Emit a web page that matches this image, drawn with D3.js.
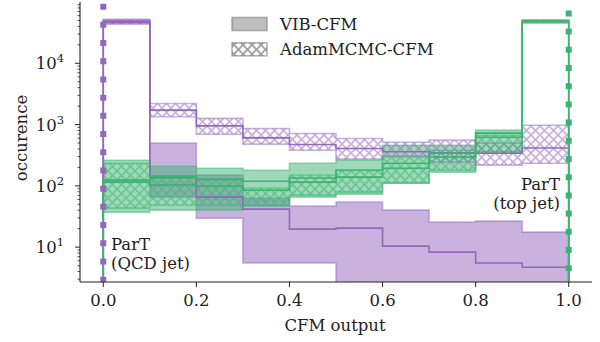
<!DOCTYPE html>
<html><head><meta charset="utf-8">
<script src="https://cdn.jsdelivr.net/npm/d3@7"></script>
<style>
body{margin:0;background:#fff;}
svg text{font-family:"DejaVu Serif","Liberation Serif",serif;fill:#222;}
</style></head>
<body><svg id="c" width="600" height="342" font-family="DejaVu Serif"></svg>
<script>
// ---- data ----
const binEdges = [0,0.1,0.2,0.3,0.4,0.5,0.6,0.7,0.8,0.9,1.0];
const xTicks = [0,0.2,0.4,0.6,0.8,1.0];
const yTickExps = [1,2,3,4];
// QCD jets (purple)
const qcdVibMid  = [48600, 139, 65.5, 41.7, 19.7, 20.4, 10.4, 8.3, 5.5, 4.7];
const qcdVibLo   = [45100, 65.5, 29.7, 5.5, 5.5, 1, 1, 1, 1, 1];
const qcdVibHi   = [52400, 498, 150, 63, 46.7, 54.2, 40.2, 25.6, 26.6, 17.6];
const qcdMcmcMid = [46800, 1718, 953, 607, 473, 407, 360, 345, 340, 415];
const qcdMcmcLo  = [43500, 1340, 697, 479, 382, 273, 305, 244, 218, 234];
const qcdMcmcHi  = [50500, 2210, 1260, 863, 716, 593, 516, 557, 498, 977];
// top jets (green)
const topVibMid  = [124, 144, 129, 119, 134, 180, 234, 341, 724, 48600];
const topVibLo   = [37.2, 40.2, 40.2, 46.7, 65.5, 73.3, 111, 167, 355, 46000];
const topVibHi   = [262, 209, 194, 180, 234, 262, 461, 461, 811, 51000];
const topMcmcMid = [115, 103, 99, 85, 115, 139, 194, 294, 622, 48000];
const topMcmcLo  = [43.3, 48.4, 48.4, 48.4, 70.5, 78.9, 111, 180, 355, 45500];
const topMcmcHi  = [234, 134, 124, 91.6, 150, 180, 294, 382, 671, 50500];
// ParT reference (delta peaks)
const partPos = [0, 1];
const partPeak = [94000, 73000];
const legendLabels = ["VIB-CFM", "AdamMCMC-CFM"];

const PURPLE = "#9467bd", GREEN = "#3cb371", GRAY = "#808080";
const FS = 16.5;
const FONT = "DejaVu Serif";

const svg = d3.select("#c");
const L = 80, R = 592, T = 2, B = 282;
const x = d3.scaleLinear([-0.05, 1.05], [L, R]);
const y = d3.scaleLog([2.7, 1e5], [B, T]);

const defs = svg.append("defs");
defs.append("clipPath").attr("id","clip").append("rect")
  .attr("x",L).attr("y",T).attr("width",R-L).attr("height",B-T);
function hatch(id, color, op){
  const p = defs.append("pattern").attr("id",id).attr("patternUnits","userSpaceOnUse")
    .attr("width",9).attr("height",9);
  p.append("path").attr("d","M-1,-1L10,10M-1,10L10,-1")
    .attr("stroke",color).attr("stroke-opacity",op).attr("stroke-width",1.8).attr("fill","none");
}
hatch("hP", PURPLE, 0.5); hatch("hG", GREEN, 0.5); hatch("hK", GRAY, 0.75);

const g = svg.append("g").attr("clip-path","url(#clip)");

function stepPts(lo, hi){
  const pts = [];
  for (let i=0;i<lo.length;i++){
    pts.push([binEdges[i], lo[i], hi[i]]);
    pts.push([binEdges[i+1], lo[i], hi[i]]);
  }
  return pts;
}
const area = d3.area().x(d=>x(d[0])).y0(d=>y(Math.max(d[1],0.5))).y1(d=>y(d[2]));
function band(lo, hi, color, hatchId){
  const p = g.append("path").datum(stepPts(lo,hi)).attr("d",area)
    .attr("stroke",color).attr("stroke-opacity",0.5).attr("stroke-width",1.6);
  if (hatchId) p.attr("fill",`url(#${hatchId})`);
  else p.attr("fill",color).attr("fill-opacity",0.5);
}
const line = d3.line().x(d=>x(d[0])).y(d=>y(d[1]));
function histLine(v, color){
  const pts = [[binEdges[0], 0.5]];
  v.forEach((val,i)=>{ pts.push([binEdges[i],val]); pts.push([binEdges[i+1],val]); });
  pts.push([binEdges[binEdges.length-1], 0.5]);
  g.append("path").datum(pts).attr("d",line).attr("fill","none")
    .attr("stroke",color).attr("stroke-width",1.6);
}

band(qcdVibLo, qcdVibHi, PURPLE, null);
band(topVibLo, topVibHi, GREEN, null);
band(qcdMcmcLo, qcdMcmcHi, PURPLE, "hP");
band(topMcmcLo, topMcmcHi, GREEN, "hG");
histLine(qcdVibMid, PURPLE);
histLine(qcdMcmcMid, PURPLE);
histLine(topVibMid, GREEN);
histLine(topMcmcMid, GREEN);

// ParT dotted peaks
[PURPLE, GREEN].forEach((c,i)=>{
  g.append("line").attr("x1",x(partPos[i])).attr("x2",x(partPos[i]))
    .attr("y1",y(partPeak[i])).attr("y2",B+10)
    .attr("stroke",c).attr("stroke-width",6).attr("stroke-dasharray","6,12.2");
});

function txt(sel){ return sel.append("text").attr("font-family",FONT).attr("font-size",FS); }

// axes
const ax = svg.append("g");
ax.append("line").attr("x1",L).attr("x2",L).attr("y1",T).attr("y2",B).attr("stroke","#222").attr("stroke-width",1.1);
ax.append("line").attr("x1",L).attr("x2",R).attr("y1",B).attr("y2",B).attr("stroke","#222").attr("stroke-width",1.1);
xTicks.forEach(t=>{
  ax.append("line").attr("x1",x(t)).attr("x2",x(t)).attr("y1",B).attr("y2",B+5).attr("stroke","#222");
  txt(ax).attr("x",x(t)).attr("y",B+24).attr("text-anchor","middle").text(d3.format(".1f")(t));
});
// y minor ticks
for (let e=0;e<=4;e++){
  for (let m=2;m<=9;m++){
    const v = m*Math.pow(10,e);
    if (v<y.domain()[0]||v>y.domain()[1]) continue;
    ax.append("line").attr("x1",L-2.5).attr("x2",L).attr("y1",y(v)).attr("y2",y(v)).attr("stroke","#222").attr("stroke-width",0.8);
  }
}
yTickExps.forEach(e=>{
  const v = Math.pow(10,e);
  ax.append("line").attr("x1",L-5).attr("x2",L).attr("y1",y(v)).attr("y2",y(v)).attr("stroke","#222");
  const t = txt(ax).attr("x",L-16).attr("y",y(v)+6).attr("text-anchor","end");
  t.append("tspan").text("10");
  t.append("tspan").attr("dy",-7).attr("font-size",FS*0.7).text(String(e));
});
txt(svg).attr("x",335).attr("y",331).attr("text-anchor","middle").text("CFM output");
txt(svg).attr("transform","translate(27,138) rotate(-90)").attr("text-anchor","middle").text("occurence");

// annotations
const a1 = txt(svg);
a1.append("tspan").attr("x",111).attr("y",250).text("ParT");
a1.append("tspan").attr("x",111).attr("y",269).text("(QCD jet)");
const a2 = txt(svg).attr("text-anchor","end");
a2.append("tspan").attr("x",560).attr("y",190).text("ParT");
a2.append("tspan").attr("x",560).attr("y",209).text("(top jet)");

// legend
const lg = svg.append("g");
legendLabels.forEach((lab,i)=>{
  const yy = 17.5 + i*25.3;
  const r = lg.append("rect").attr("x",232).attr("y",yy).attr("width",35).attr("height",13)
    .attr("stroke",GRAY).attr("stroke-opacity",0.6).attr("stroke-width",1.6);
  if (i===0) r.attr("fill",GRAY).attr("fill-opacity",0.5);
  else r.attr("fill","url(#hK)");
  txt(lg).attr("x",280).attr("y",yy+12).text(lab);
});
</script></body></html>
